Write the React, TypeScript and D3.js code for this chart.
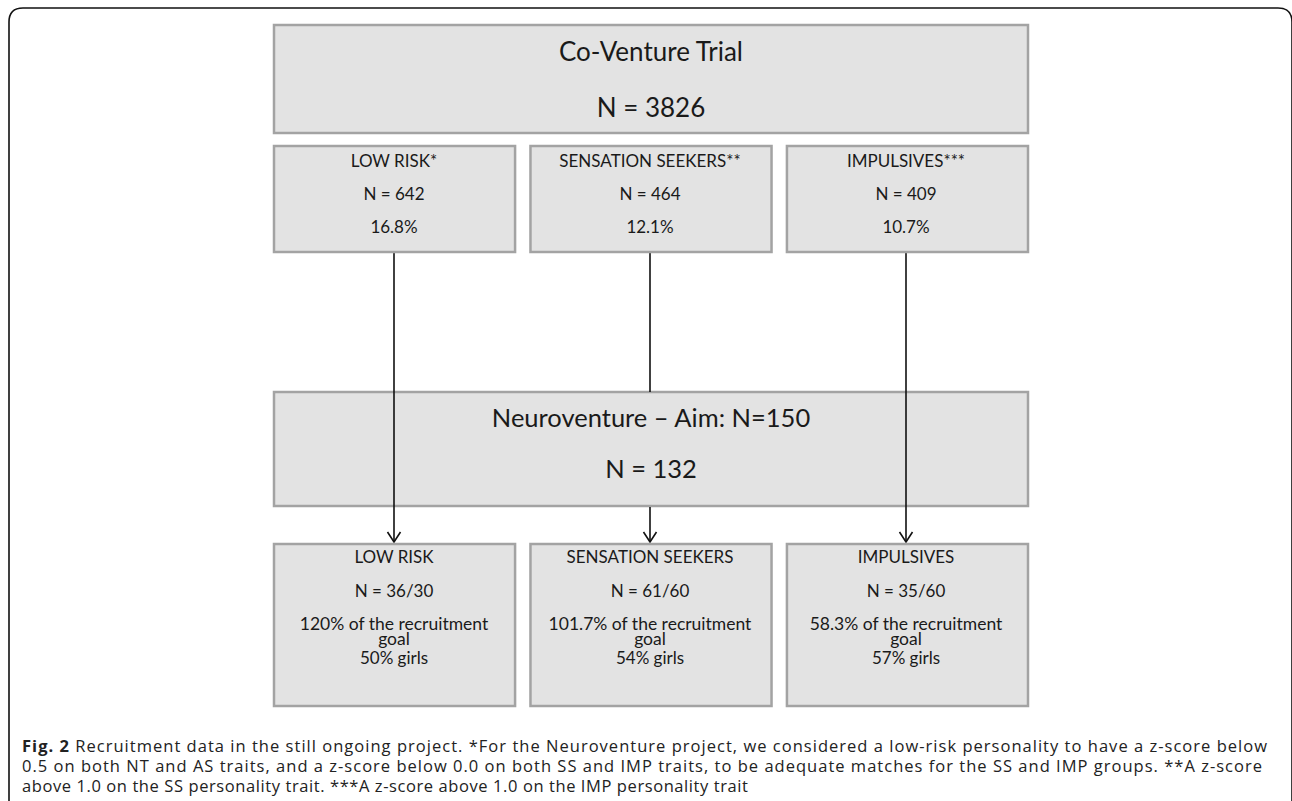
import { useEffect, useRef } from "react";
import * as d3 from "d3";

// flow chart content
const topTitle = "Co-Venture Trial";
const topCount = 3826;

const screenGroups = ["LOW RISK*", "SENSATION SEEKERS**", "IMPULSIVES***"];
const screenCounts = [642, 464, 409];
const screenPercents = ["16.8%", "12.1%", "10.7%"];

const neuroTitle = "Neuroventure \u2013 Aim: N=150";
const neuroCount = 132;

const finalGroups = ["LOW RISK", "SENSATION SEEKERS", "IMPULSIVES"];
const finalCounts = [36, 61, 35];
const finalGoals = [30, 60, 60];
const finalGoalPercents = ["120%", "101.7%", "58.3%"];
const finalGirls = ["50%", "54%", "57%"];

const captionLines = [
  "Recruitment data in the still ongoing project. *For the Neuroventure project, we considered a low-risk personality to have a z-score below",
  "0.5 on both NT and AS traits, and a z-score below 0.0 on both SS and IMP traits, to be adequate matches for the SS and IMP groups. **A z-score",
  "above 1.0 on the SS personality trait. ***A z-score above 1.0 on the IMP personality trait",
];
const captionWidths = [1245, 1240, 726];

const W = 1292;
const H = 801;
const boxFont = "Lato, 'Open Sans', sans-serif";
const capFont = "'Open Sans', 'Noto Sans', sans-serif";

const App = () => {
  const ref = useRef<SVGSVGElement>(null);

  useEffect(() => {
    const svg = d3.select(ref.current);
    svg.selectAll("*").remove();

    const x = d3.scaleBand<number>().domain([0, 1, 2]).range([274, 1028]).paddingInner(0.06);
    const cx = (i: number) => Math.round((x(i) as number) + x.bandwidth() / 2) - 1;

    // outer frame
    svg
      .append("path")
      .attr("d", `M9,${H + 5} L9,22 Q9,8 23,8 L1278,8 Q1292,8 1292,22 L1292,${H + 5}`)
      .attr("fill", "none")
      .attr("stroke", "#111")
      .attr("stroke-width", 1.6);

    const box = (x0: number, y0: number, w: number, h: number) =>
      svg
        .append("rect")
        .attr("x", x0)
        .attr("y", y0)
        .attr("width", w)
        .attr("height", h)
        .attr("fill", "#e3e3e3")
        .attr("stroke", "#a3a3a3")
        .attr("stroke-width", 2.5);

    const label = (tx: number, ty: number, s: string, size: number) =>
      svg
        .append("text")
        .attr("x", tx)
        .attr("y", ty)
        .attr("text-anchor", "middle")
        .attr("font-family", boxFont)
        .attr("font-size", size)
        .attr("fill", "#1a1a1a")
        .text(s);

    const vline = (lx: number, y1: number, y2: number) =>
      svg
        .append("line")
        .attr("x1", lx)
        .attr("x2", lx)
        .attr("y1", y1)
        .attr("y2", y2)
        .attr("stroke", "#111")
        .attr("stroke-width", 1.6);

    const arrowHead = (ax: number, tip: number) =>
      svg
        .append("path")
        .attr("d", `M${ax - 6.5},${tip - 10} L${ax},${tip} L${ax + 6.5},${tip - 10}`)
        .attr("fill", "none")
        .attr("stroke", "#111")
        .attr("stroke-width", 1.6);

    // top box
    box(274, 25, 754, 108);
    label(651, 61, topTitle, 26);
    label(651, 117, `N = ${topCount}`, 26);

    const lineTop = 252;
    const tipY = 542;

    // neuroventure box, side lines pass over it
    box(274, 392, 754, 114);
    [0, 2].forEach((i) => {
      vline(cx(i), lineTop, tipY);
      arrowHead(cx(i), tipY);
    });
    label(651, 427, neuroTitle, 25.5);
    label(651, 478, `N = ${neuroCount}`, 25.5);

    vline(cx(1), lineTop, 392);
    vline(cx(1), 507, tipY);
    arrowHead(cx(1), tipY);

    // screening row
    screenGroups.forEach((g, i) => {
      box(x(i) as number, 146, x.bandwidth(), 106);
      label(cx(i), 167, g, 17);
      label(cx(i), 200, `N = ${screenCounts[i]}`, 17);
      label(cx(i), 233, screenPercents[i], 17);
    });

    // final row
    finalGroups.forEach((g, i) => {
      box(x(i) as number, 544, x.bandwidth(), 162);
      label(cx(i), 563, g, 17);
      label(cx(i), 597, `N = ${finalCounts[i]}/${finalGoals[i]}`, 17);
      label(cx(i), 630, `${finalGoalPercents[i]} of the recruitment`, 17.5);
      label(cx(i), 645, "goal", 17.5);
      label(cx(i), 664, `${finalGirls[i]} girls`, 17);
    });

    // caption
    const capY = [752, 772, 792];
    captionLines.forEach((line, i) => {
      const t = svg
        .append("text")
        .attr("x", 22)
        .attr("y", capY[i])
        .attr("font-family", capFont)
        .attr("font-size", 16.5)
        .attr("fill", "#222")
        .attr("textLength", captionWidths[i])
        .attr("lengthAdjust", "spacing");
      if (i === 0) {
        t.append("tspan").attr("font-weight", "bold").text("Fig. 2 ");
      }
      t.append("tspan").text(line);
    });
  }, []);

  return (
    <svg
      ref={ref}
      width={W}
      height={H}
      style={{ position: "absolute", left: 0, top: 0, background: "#fff" }}
    />
  );
};

export default App;
